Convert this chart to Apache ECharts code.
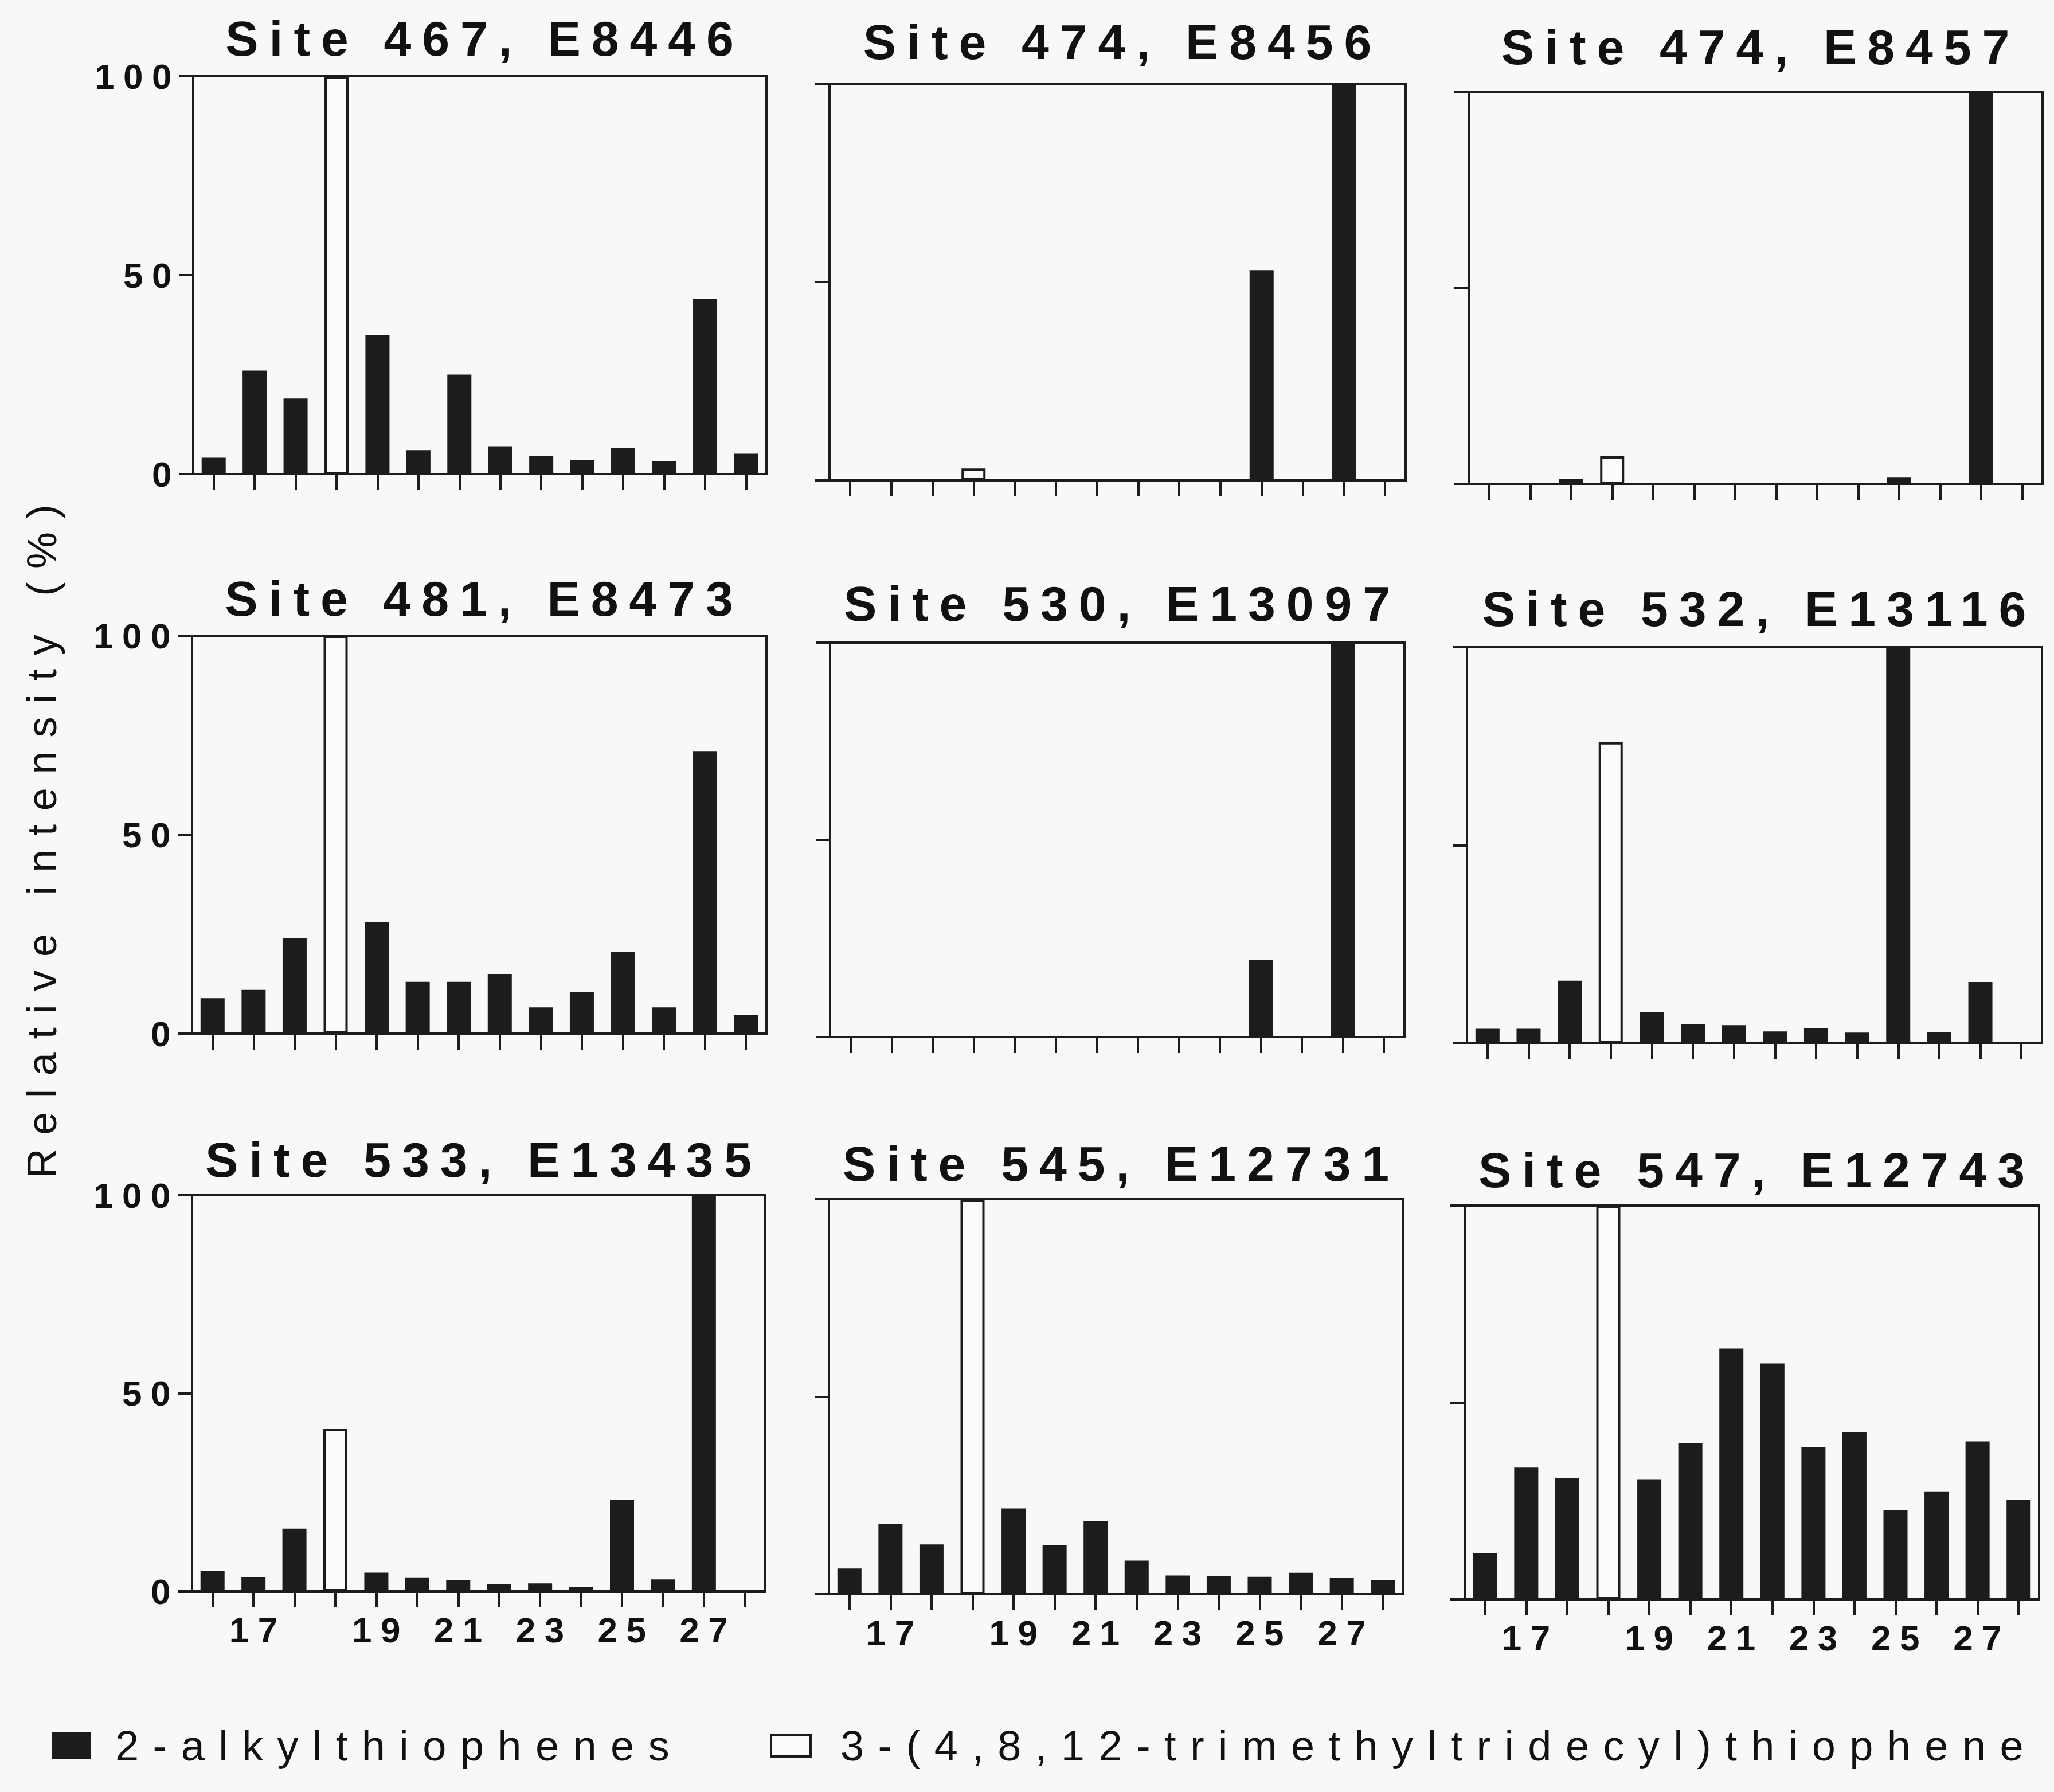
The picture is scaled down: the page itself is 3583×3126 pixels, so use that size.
<!DOCTYPE html>
<html>
<head>
<meta charset="utf-8">
<script src="https://cdn.jsdelivr.net/npm/echarts@6/dist/echarts.min.js"></script>
<style>
html, body { margin: 0; padding: 0; background: #f8f8f8; }
#chart { width: 3583px; height: 3126px; }
/* the figure uses widely spaced lettering */
#chart text { letter-spacing: 0.33em; }
#chart text[style*="86px"] { letter-spacing: 0.22em; }
#chart text[style*="62px"] { letter-spacing: 0.25em; }
</style>
</head>
<body>
<div id="chart"></div>
<script>
// carbon number of the 2-alkylthiophene; 'iso' is the slot of the C19 isoprenoid thiophene
const categories = ['16', '17', '18', 'iso', '19', '20', '21', '22', '23', '24', '25', '26', '27', '28'];
const xTickLabels = ['17', '19', '21', '23', '25', '27'];
const yTicks = [0, 50, 100];

const siteNames = [
    'Site 467, E8446', 'Site 474, E8456', 'Site 474, E8457',
    'Site 481, E8473', 'Site 530, E13097', 'Site 532, E13116',
    'Site 533, E13435', 'Site 545, E12731', 'Site 547, E12743'
];

// 2-alkylthiophenes, relative intensity (%)
const alkyl467 = [4.1, 26, 19, null, 35, 6, 25, 7, 4.6, 3.6, 6.5, 3.3, 44, 5.1];
const alkyl474a = [0, 0, 0, null, 0, 0, 0, 0, 0, 0, 53, 0, 100, 0];
const alkyl474b = [0, 0, 1.3, null, 0, 0, 0, 0, 0, 0, 1.7, 0, 100, 0];
const alkyl481 = [8.9, 11, 24, null, 28, 13, 13, 15, 6.6, 10.5, 20.5, 6.6, 71, 4.6];
const alkyl530 = [0, 0, 0, null, 0, 0, 0, 0, 0, 0, 19.6, 0, 100, 0];
const alkyl532 = [3.7, 3.7, 15.8, null, 7.9, 4.8, 4.6, 3.0, 3.9, 2.7, 100, 2.9, 15.5, 0];
const alkyl533 = [5.2, 3.6, 15.8, null, 4.7, 3.5, 2.8, 1.8, 2.0, 1.0, 23, 3.0, 100, 0];
const alkyl545 = [6.5, 17.7, 12.6, null, 21.7, 12.5, 18.5, 8.5, 4.7, 4.5, 4.4, 5.4, 4.2, 3.5];
const alkyl547 = [11.8, 33.6, 30.8, null, 30.5, 39.7, 63.7, 59.9, 38.7, 42.5, 22.7, 27.4, 40.1, 25.3];
const alkylSets = [alkyl467, alkyl474a, alkyl474b, alkyl481, alkyl530, alkyl532, alkyl533, alkyl545, alkyl547];

// 3-(4,8,12-trimethyltridecyl)thiophene, one value per panel
const isoValues = [100, 3, 7, 100, 0, 76, 41, 100, 100];

const alkylName = '2-alkylthiophenes';
const isoName = '3-(4,8,12-trimethyltridecyl)thiophene';

// plot boxes: left, top, right, zero line (px)
const boxes = [
    [337, 133, 1337, 827], [1447, 146, 2452, 838], [2562, 160, 3563, 844],
    [335, 1109, 1337, 1803], [1448, 1121, 2450, 1809], [2559, 1129, 3562, 1820],
    [335, 2085, 1335, 2776], [1446, 2092, 2448, 2781], [2555, 2103, 3557, 2790]
];
const titleTops = [24, 30, 39, 1001, 1010, 1019, 1980, 1987, 1998];

const ink = '#1c1c1c';
const font = 'Liberation Sans';

const grids = [], xAxes = [], yAxes = [], series = [], titles = [];

boxes.forEach(function (b, i) {
    const col = i % 3, row = Math.floor(i / 3);
    grids.push({
        left: b[0], top: b[1], width: b[2] - b[0], height: b[3] - b[1],
        show: true, borderColor: ink, borderWidth: 4,
        backgroundColor: 'transparent', outerBoundsMode: 'none'
    });
    titles.push({
        text: siteNames[i],
        left: (b[0] + b[2]) / 2 + 9, top: titleTops[i], textAlign: 'center',
        padding: 0,
        textStyle: { fontFamily: font, fontSize: 86, fontWeight: 'bold', color: '#111' }
    });
    xAxes.push({
        type: 'category', gridIndex: i, data: categories,
        axisLine: { show: true, lineStyle: { color: ink, width: 4 } },
        axisTick: { show: true, alignWithLabel: true, length: 28, lineStyle: { color: ink, width: 4 } },
        axisLabel: {
            show: row === 2, interval: 0, margin: 36, padding: [0, 0, 0, 15],
            fontFamily: font, fontSize: 62, fontWeight: 'bold', color: '#111',
            formatter: function (v) { return xTickLabels.indexOf(v) >= 0 ? v : ''; }
        },
        splitLine: { show: false }
    });
    const yAxis = {
        type: 'value', gridIndex: i, min: yTicks[0], max: yTicks[yTicks.length - 1],
        interval: yTicks[1] - yTicks[0],
        axisLine: { show: true, lineStyle: { color: ink, width: 4 } },
        axisTick: { show: true, length: 25, lineStyle: { color: ink, width: 4 } },
        axisLabel: {
            show: col === 0, margin: 22,
            fontFamily: font, fontSize: 62, fontWeight: 'bold', color: '#111'
        },
        splitLine: { show: false }
    };
    if (i === 3) {
        yAxis.name = 'Relative intensity (%)';
        yAxis.nameLocation = 'middle';
        yAxis.nameGap = 226;
        yAxis.nameTextStyle = { fontFamily: font, fontSize: 72, color: '#111' };
    }
    yAxes.push(yAxis);
    series.push({
        type: 'bar', name: alkylName, xAxisIndex: i, yAxisIndex: i,
        data: alkylSets[i], barWidth: 42, barGap: '-100%',
        itemStyle: { color: ink }
    });
    series.push({
        type: 'bar', name: isoName, xAxisIndex: i, yAxisIndex: i,
        data: categories.map(function (c) { return c === 'iso' ? isoValues[i] : null; }),
        barWidth: 42, barGap: '-100%',
        itemStyle: { color: '#fbfbfb', borderColor: ink, borderWidth: 4 }
    });
});

const chart = echarts.init(document.getElementById('chart'), null, { renderer: 'svg' });

chart.setOption({
    backgroundColor: '#f8f8f8',
    animation: false,
    title: titles,
    grid: grids,
    xAxis: xAxes,
    yAxis: yAxes,
    legend: [{
        data: [{ name: alkylName, itemStyle: { color: ink } }],
        left: 90, top: 3008, padding: 0,
        icon: 'rect', itemWidth: 68, itemHeight: 48,
        textStyle: { fontFamily: font, fontSize: 74, color: '#111', padding: [0, 0, 0, 38] }
    }, {
        data: [{ name: isoName, itemStyle: { color: '#fbfbfb', borderColor: ink, borderWidth: 4 } }],
        left: 1343, top: 3008, padding: 0,
        icon: 'rect', itemWidth: 69, itemHeight: 38,
        textStyle: { fontFamily: font, fontSize: 74, color: '#111', padding: [0, 0, 0, 47] }
    }],
    series: series
});
</script>
</body>
</html>
